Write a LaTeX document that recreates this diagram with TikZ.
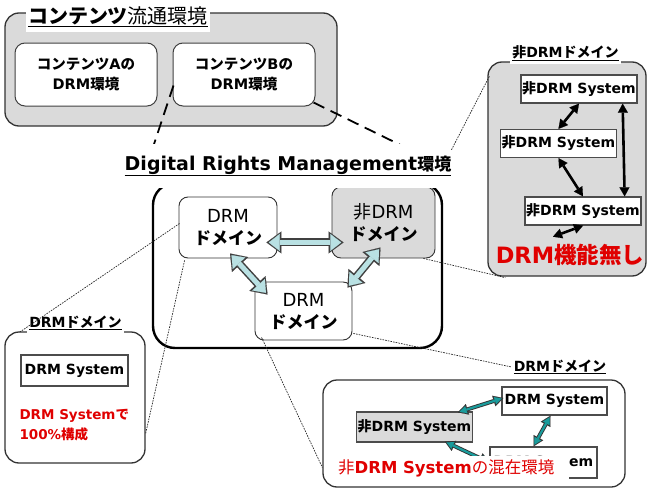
\documentclass[tikz,border=0pt]{standalone}
\usepackage{fontspec}
\setmainfont{DejaVu Sans}
\newfontfamily\jp{Noto Sans CJK JP}
\usetikzlibrary{arrows.meta, calc}

\definecolor{panelgray}{HTML}{DADADA}
\definecolor{palecyan}{HTML}{B9E1E3}
\definecolor{tealarrow}{HTML}{1A9C9C}
\definecolor{alertred}{HTML}{E00000}

\tikzset{
  grp/.style={draw=black!80, line width=1.3pt, rounded corners=14pt, fill=panelgray},
  envbox/.style={draw=black!75, line width=1pt, rounded corners=10pt, fill=white, align=center,
    minimum width=142pt, minimum height=63pt, font=\bfseries\fontsize{14.5}{20}\selectfont},
  dombox/.style={draw=black!80, line width=0.9pt, rounded corners=9pt, fill=white, align=center,
    font=\fontsize{18}{22}\selectfont},
  sysbox/.style={draw=black!70, line width=1.3pt, fill=white, inner sep=1pt,
    font=\bfseries\fontsize{14}{17}\selectfont},
  ttl/.style={fill=white, inner sep=2pt, minimum height=22pt, font=\bfseries\fontsize{14}{17}\selectfont},
  dotline/.style={black!85, line width=0.7pt, dash pattern=on 1.6pt off 1.1pt},
  longdash/.style={black, line width=1.8pt, dash pattern=on 12pt off 7pt},
  blkarrow/.style={black, line width=2.6pt,
    {Triangle[length=9pt,width=10pt,line width=0.1pt]}-{Triangle[length=9pt,width=10pt,line width=0.1pt]}},
  pale rim/.style={black!75, line width=8pt,
    {Triangle[length=15pt,width=22pt,line width=0.1pt]}-{Triangle[length=15pt,width=22pt,line width=0.1pt]}},
  pale core/.style={palecyan, line width=5pt, shorten <=2.3pt, shorten >=2.3pt,
    {Triangle[length=11pt,width=17pt,line width=0.1pt]}-{Triangle[length=11pt,width=17pt,line width=0.1pt]}},
  teal rim/.style={black!80, line width=4pt,
    {Triangle[length=10pt,width=11pt,line width=0.1pt]}-{Triangle[length=10pt,width=11pt,line width=0.1pt]}},
  teal core/.style={tealarrow, line width=2.2pt, shorten <=1.8pt, shorten >=1.8pt,
    {Triangle[length=7pt,width=7.5pt,line width=0.1pt]}-{Triangle[length=7pt,width=7.5pt,line width=0.1pt]}}
}

% fat two-headed arrow: outline first, then the coloured core
\newcommand{\fatarrow}[3][pale]{%
  \draw[#1 rim] #2 -- #3;
  \draw[#1 core] #2 -- #3;}

\begin{document}
\begin{tikzpicture}[x=1pt, y=-1pt]
\useasboundingbox (0,0) rectangle (649,498);

% content distribution environment
\node[grp, minimum width=332pt, minimum height=113pt] (topgrp) at (171,69.5) {};
\node[envbox] (envA) at (86,74.5) {{\jp コンテンツ}A{\jp の}\\DRM{\jp 環境}};
\node[envbox] (envB) at (244,74.5) {{\jp コンテンツ}B{\jp の}\\DRM{\jp 環境}};
\node[fill=white, inner sep=2pt, minimum height=30pt] (toptitle) at (118,17)
  {\underline{{\jp\bfseries\fontsize{20}{24}\selectfont コンテンツ}{\jp\fontsize{20}{24}\selectfont 流通環境}}};

% DRM environment
\node[draw, line width=2.4pt, rounded corners=22pt, minimum width=289pt, minimum height=165pt] (cbox) at (297.5,265.5) {};
\node[dombox, minimum width=98pt, minimum height=61pt] (d1) at (228,227.5)
  {DRM\\{\jp\bfseries\fontsize{17}{20}\selectfont ドメイン}};
\node[dombox, fill=panelgray, minimum width=103pt, minimum height=71pt] (d2) at (383.5,222.5)
  {{\jp 非}DRM\\{\jp\bfseries\fontsize{17}{20}\selectfont ドメイン}};
\node[dombox, minimum width=97pt, minimum height=58pt] (d3) at (303.5,311)
  {DRM\\{\jp\bfseries\fontsize{17}{20}\selectfont ドメイン}};

\draw[longdash] ($(envB.west)+(1,11)$) -- ($(cbox.north west)+(-6,-13)$);
\draw[longdash] ($(envB.south east)+(-2,-4)$) -- ($(cbox.north east)+(6,-13)$);

\node[fill=white, inner xsep=0pt, minimum height=44pt, font=\bfseries\fontsize{19}{23}\selectfont] (dtitle) at (288,166)
  {\underline{Digital Rights Management{\jp\fontsize{17}{20}\selectfont 環境}}};

% non-DRM domain
\node[grp, minimum width=158pt, minimum height=214pt] (rgrp) at (567,169) {};
\node[ttl] (rtitle) at (565.5,53) {\underline{{\jp 非}DRM{\jp ドメイン}}};
\foreach \n/\x/\y in {r1/579/89, r2/558.5/143.5, r3/583/211}
  \node[sysbox, minimum width=116pt, minimum height=28pt] (\n) at (\x,\y) {{\jp 非}DRM System};
\node[text=alertred, font=\bfseries\fontsize{22.5}{26}\selectfont] (nodrm) at (570,255) {DRM{\jp 機能無し}};

% DRM-only domain
\node[grp, fill=white, minimum width=140pt, minimum height=131pt] (lgrp) at (75,397.5) {};
\node[ttl] (ltitle) at (75.5,323) {\underline{DRM{\jp ドメイン}}};
\node[sysbox, minimum width=107pt, minimum height=31pt] (l1) at (74.5,370.5) {DRM System};
\node[text=alertred, align=left, anchor=west, font=\bfseries\fontsize{13.5}{20}\selectfont] (allsys) at (16,425)
  {DRM System{\jp で}\\100\%{\jp 構成}};

% mixed domain
\node[grp, fill=white, minimum width=302pt, minimum height=107pt] (brgrp) at (474,433.5) {};
\node[ttl, minimum height=18pt] (brtitle) at (560,367) {\underline{DRM{\jp ドメイン}}};
\node[sysbox, minimum width=105pt, minimum height=28pt] (b1) at (554.5,401) {DRM System};
\node[sysbox, fill=panelgray, minimum width=115pt, minimum height=30pt] (b2) at (414.5,427) {{\jp 非}DRM System};
\node[sysbox, minimum width=107pt, minimum height=31pt] (b3) at (543.5,462.5) {DRM System};

% zoom lines
\draw[dotline] ($(dtitle.north east)+(0,6)$) -- ($(rgrp.north west)+(2,15)$);
\draw[dotline] ($(d2.south east)+(-12,0)$) -- ($(rgrp.south west)+(18,1)$);
\draw[dotline] ($(d1.west)+(1,-4)$) -- ($(lgrp.north west)+(15,1)$);
\draw[dotline] ($(d1.south west)+(6,2)$) -- ($(lgrp.east)+(0,36)$);
\draw[dotline] ($(d3.south east)+(1,-7)$) -- (brtitle.west);
\draw[dotline] ($(d3.south west)+(7,-3)$) -- ($(brgrp.west)+(0,34)$);

% arrows
\fatarrow{($(d1.south east)+(-11,-16)$)}{($(d2.south west)+(12,-16)$)}
\fatarrow{($(d1.south)+(2,-5)$)}{($(d3.north west)+(13,13)$)}
\fatarrow{($(d2.south)+(-3,-11)$)}{($(d3.north east)+(-5,6)$)}

\draw[blkarrow] (r1.south) -- (r2.north);
\draw[blkarrow] (r2.south) -- (r3.north);
\draw[blkarrow] ($(r1.south east)+(-15,0)$) -- ($(r3.north east)+(-17,0)$);
\draw[blkarrow] (r3.south) -- ($(nodrm.north)+(-17,-4)$);

\fatarrow[teal]{($(b2.north east)+(-15,1)$)}{($(b1.west)+(2,-3)$)}
\fatarrow[teal]{($(b1.south)+(-4,0)$)}{($(b3.north)+(-10,0)$)}
\fatarrow[teal]{(b3.west)}{($(b2.south east)+(-28,-1)$)}

\node[fill=white, inner sep=3pt, anchor=west, text width=228pt, align=left, text=alertred,
  font=\fontsize{16.5}{19}\selectfont] (mixed) at (335,468)
  {{\jp 非}\textbf{DRM System}{\jp の混在環境}};

\end{tikzpicture}
\end{document}
